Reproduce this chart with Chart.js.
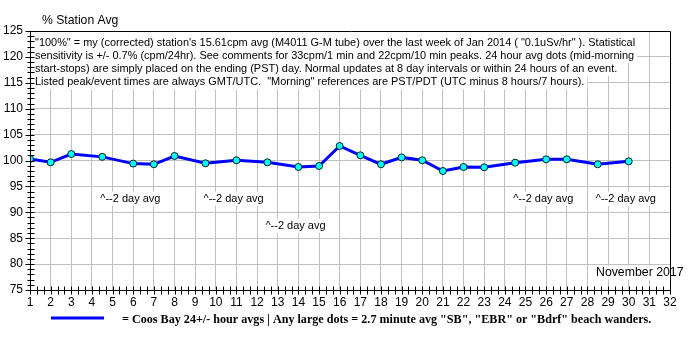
<!DOCTYPE html>
<html><head><meta charset="utf-8">
<script src="https://cdn.jsdelivr.net/npm/chart.js@4"></script>
<style>html,body{margin:0;padding:0;background:#fff;overflow:hidden}canvas{display:block}</style>
</head><body>
<canvas id="c" width="700" height="350"></canvas>
<script>
// ---- data ----
const days = [1, 2, 3, 4.5, 6, 7, 8, 9.5, 11, 12.5, 14, 15, 16, 17, 18, 19, 20, 21, 22, 23, 24.5, 26, 27, 28.5, 30];
const pctStationAvg = [100.3, 99.65, 101.25, 100.7, 99.4, 99.27, 100.87, 99.46, 100.04, 99.65, 98.75, 98.94, 102.8, 101.0, 99.27, 100.6, 100.04, 97.97, 98.75, 98.69, 99.58, 100.23, 100.23, 99.27, 99.84];
const xTickLabels = [1,2,3,4,5,6,7,8,9,10,11,12,13,14,15,16,17,18,19,20,21,22,23,24,25,26,27,28,29,30,31,32];
const yTickLabels = [75,80,85,90,95,100,105,110,115,120,125];
const twoDayNoteDays = [4.5, 9.5, 12.5, 24.5, 28.5];
const twoDayNoteLevels = [92.6, 92.6, 87.4, 92.6, 92.6];
const twoDayNoteText = "^--2 day avg";
const noteLines = [
  '"100%" = my (corrected) station\'s 15.61cpm avg (M4011 G-M tube) over the last week of Jan 2014 ( "0.1uSv/hr" ). Statistical',
  'sensitivity is +/- 0.7% (cpm/24hr). See comments for 33cpm/1 min and 22cpm/10 min peaks. 24 hour avg dots (mid-morning',
  'start-stops) are simply placed on the ending (PST) day. Normal updates at 8 day intervals or within 24 hours of an event.',
  'Listed peak/event times are always GMT/UTC.  "Morning" references are PST/PDT (UTC minus 8 hours/7 hours).'
];
const yTitle = "% Station Avg";
const monthLabel = "November 2017";
const legendText = '= Coos Bay 24+/- hour avgs | Any large dots = 2.7 minute avg "SB", "EBR" or "Bdrf" beach wanders.';

const SANS = '"Liberation Sans", Arial, sans-serif';
const SERIF = '"Liberation Serif", "Times New Roman", serif';

function fitFont(ctx, text, weight, family, baseSize, target) {
  ctx.font = weight + ' ' + baseSize + 'px ' + family;
  const w = ctx.measureText(text).width;
  return baseSize * target / w;
}

const decor = {
  id: 'decor',
  beforeDatasetsDraw(chart) {
    const ctx = chart.ctx, ca = chart.chartArea;
    const xs = chart.scales.x, ys = chart.scales.y;
    ctx.save();
    // note block with white backgrounds
    const fs = fitFont(ctx, noteLines[0], 'normal', SANS, 11, 600);
    ctx.font = 'normal ' + fs.toFixed(2) + 'px ' + SANS;
    ctx.textBaseline = 'middle';
    ctx.textAlign = 'left';
    const x0 = ca.left + 5;
    noteLines.forEach((t, i) => {
      const cy = 42.5 + 13.3 * i;
      const w = ctx.measureText(t).width;
      ctx.fillStyle = '#fff';
      const top = i === 0 ? ca.top + 1 : cy - 6.6;
      ctx.fillRect(ca.left + 1, top, x0 - ca.left + w + 2, cy + 7 - top);
      ctx.fillStyle = '#000';
      ctx.fillText(t, x0, cy);
    });
    // 2 day avg notes
    ctx.font = 'normal 11px ' + SANS;
    twoDayNoteDays.forEach((d, i) => {
      const px = xs.getPixelForValue(d) - 2;
      const py = ys.getPixelForValue(twoDayNoteLevels[i]);
      const w = ctx.measureText(twoDayNoteText).width;
      ctx.fillStyle = '#fff';
      ctx.fillRect(px - 1, py - 7, w + 3, 14);
      ctx.fillStyle = '#000';
      ctx.fillText(twoDayNoteText, px, py);
    });
    // month label
    ctx.font = 'normal 12.3px ' + SANS;
    const mw = ctx.measureText(monthLabel).width;
    const mx = 596, my = 272.5;
    ctx.fillStyle = '#fff';
    ctx.fillRect(mx - 1, my - 7, mw + 2, 14);
    ctx.fillStyle = '#000';
    ctx.fillText(monthLabel, mx, my);
    ctx.restore();
  },
  afterDraw(chart) {
    const ctx = chart.ctx, ca = chart.chartArea;
    const xs = chart.scales.x, ys = chart.scales.y;
    ctx.save();
    ctx.strokeStyle = '#000';
    ctx.lineWidth = 1;
    ctx.beginPath();
    // frame
    const L = Math.round(ca.left) + 0.5, R = Math.round(ca.right) + 0.5;
    const T = Math.round(ca.top) + 0.5, B = Math.round(ca.bottom) + 0.5;
    ctx.moveTo(L, T); ctx.lineTo(R, T); ctx.lineTo(R, B); ctx.lineTo(L, B); ctx.lineTo(L, T);
    // y ticks
    for (let v = 75; v <= 125; v++) {
      const py = Math.round(ys.getPixelForValue(v)) + 0.5;
      if (v % 5 === 0) { ctx.moveTo(L - 5, py); ctx.lineTo(L + 4, py); }
      else { ctx.moveTo(L - 3, py); ctx.lineTo(L + 4, py); }
    }
    // x ticks (every 8 hours)
    for (let k = 0; k <= 31 * 3; k++) {
      const px = Math.round(xs.getPixelForValue(1 + k / 3)) + 0.5;
      ctx.moveTo(px, B - 4); ctx.lineTo(px, B + 4);
    }
    ctx.stroke();
    // title
    ctx.fillStyle = '#000';
    ctx.font = 'normal 12.2px ' + SANS;
    ctx.textBaseline = 'middle';
    ctx.textAlign = 'left';
    ctx.fillText(yTitle, 42, 21);
    // legend
    ctx.strokeStyle = '#0000ff';
    ctx.lineWidth = 3;
    ctx.beginPath();
    ctx.moveTo(51, 318); ctx.lineTo(104, 318);
    ctx.stroke();
    const lf = fitFont(ctx, legendText, 'bold', SERIF, 12, 530);
    ctx.font = 'bold ' + lf.toFixed(2) + 'px ' + SERIF;
    ctx.fillText(legendText, 122, 319.5);
    ctx.restore();
  }
};

new Chart(document.getElementById('c'), {
  type: 'line',
  data: {
    datasets: [{
      data: days.map((d, i) => ({ x: d, y: pctStationAvg[i] })),
      borderColor: '#0000ff',
      borderWidth: 3,
      pointRadius: 3.5,
      pointBackgroundColor: '#00ffff',
      pointBorderColor: '#002020',
      pointBorderWidth: 1,
      tension: 0,
      fill: false
    }]
  },
  options: {
    responsive: false,
    animation: false,
    devicePixelRatio: 1,
    layout: { padding: { top: 31, right: 30, left: 0, bottom: 0 } },
    plugins: { legend: { display: false }, tooltip: { enabled: false } },
    scales: {
      x: {
        type: 'linear', min: 1, max: 32,
        afterFit(s) { s.height = 60; },
        afterBuildTicks(s) { s.ticks = xTickLabels.map(v => ({ value: v })); },
        ticks: { color: '#000', font: { family: SANS, size: 12 }, padding: 5, maxRotation: 0, autoSkip: false },
        grid: { color: '#c0c0c0', drawTicks: false, lineWidth: 1 },
        border: { color: '#000', width: 1 }
      },
      y: {
        min: 75, max: 125,
        afterFit(s) { s.width = 30; },
        afterBuildTicks(s) { s.ticks = yTickLabels.map(v => ({ value: v })); },
        ticks: { color: '#000', font: { family: SANS, size: 12 }, padding: 7 },
        grid: { color: '#c0c0c0', drawTicks: false, lineWidth: 1 },
        border: { color: '#000', width: 1 }
      }
    }
  },
  plugins: [decor]
});
</script>
</body></html>
